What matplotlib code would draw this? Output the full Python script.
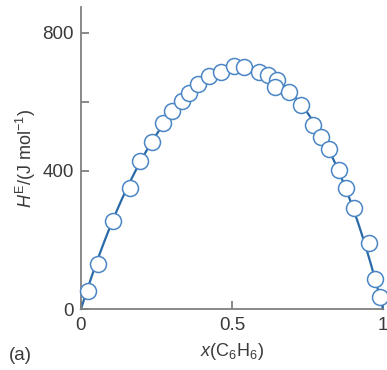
import numpy as np
import matplotlib
matplotlib.use("Agg")
import matplotlib.pyplot as plt

plt.rcParams['font.family'] = ['Liberation Sans', 'DejaVu Sans']
plt.rcParams['mathtext.fontset'] = 'custom'
plt.rcParams['mathtext.rm'] = 'Liberation Sans'
plt.rcParams['mathtext.it'] = 'Liberation Sans:italic'

# data
x_benzene = [0.023, 0.056, 0.105, 0.161, 0.194, 0.234, 0.273, 0.301, 0.335, 0.359,
             0.388, 0.425, 0.465, 0.505, 0.539, 0.591, 0.620, 0.648, 0.641, 0.688,
             0.729, 0.767, 0.794, 0.821, 0.854, 0.877, 0.905, 0.954, 0.974, 0.991]
h_excess = [52, 130, 255, 351, 428, 483, 538, 574, 604, 627,
            651, 675, 686, 703, 702, 688, 677, 664, 643, 630,
            590, 533, 497, 463, 404, 351, 293, 190, 87, 34]

x_ticks = [0, 0.5, 1]
x_ticklabels = ['0', '0.5', '1']
y_ticks = [0, 400, 800]
y_ticklabels = ['0', '400', '800']
y_minor = [600]

xa = np.array(x_benzene)
ha = np.array(h_excess)
# Redlich-Kister least-squares fit for the smooth line
z = 2 * xa - 1
A = np.column_stack([xa * (1 - xa) * z**k for k in range(3)])
coef, *_ = np.linalg.lstsq(A, ha, rcond=None)
xf = np.linspace(0, 1, 300)
zf = 2 * xf - 1
hf = sum(coef[k] * xf * (1 - xf) * zf**k for k in range(3))

fig = plt.figure(figsize=(3.87, 3.70), dpi=100)
ax = fig.add_axes([81/387, 61/370, 302/387, 302/370])

ax.plot(xf, hf, color='#2a6aa8', lw=1.6, zorder=2, clip_on=False)
ax.plot(x_benzene, h_excess, 'o', ms=11.5, mfc='white', mec='#4a86c5', mew=1.1,
        zorder=3, clip_on=False)

ax.set_xlim(0, 1)
ax.set_ylim(0, 875)
for s in ['top', 'right']:
    ax.spines[s].set_visible(False)
for s in ['left', 'bottom']:
    ax.spines[s].set_color('#808080')
    ax.spines[s].set_linewidth(1.3)

ax.set_xticks(x_ticks)
ax.set_xticklabels(x_ticklabels)
ax.set_yticks(y_ticks)
ax.set_yticklabels(y_ticklabels)
ax.set_yticks(y_minor, minor=True)
ax.tick_params(axis='both', which='both', direction='in', length=6, width=1.3,
               color='#808080', labelsize=13.5, labelcolor='#3a3a3a')
ax.tick_params(axis='x', pad=6)
ax.tick_params(axis='y', pad=5)

ax.set_xlabel(r'$x$(C$_6$H$_6$)', fontsize=13, color='#3a3a3a', labelpad=5)
ax.set_ylabel(r'$H^{\mathrm{E}}$/(J mol$^{-1}$)', fontsize=13, color='#3a3a3a', labelpad=3)
fig.text(9/387, 1 - 355/370, '(a)', fontsize=13.5, color='#3a3a3a', va='center', ha='left')

fig.savefig('out.png', dpi=100)
